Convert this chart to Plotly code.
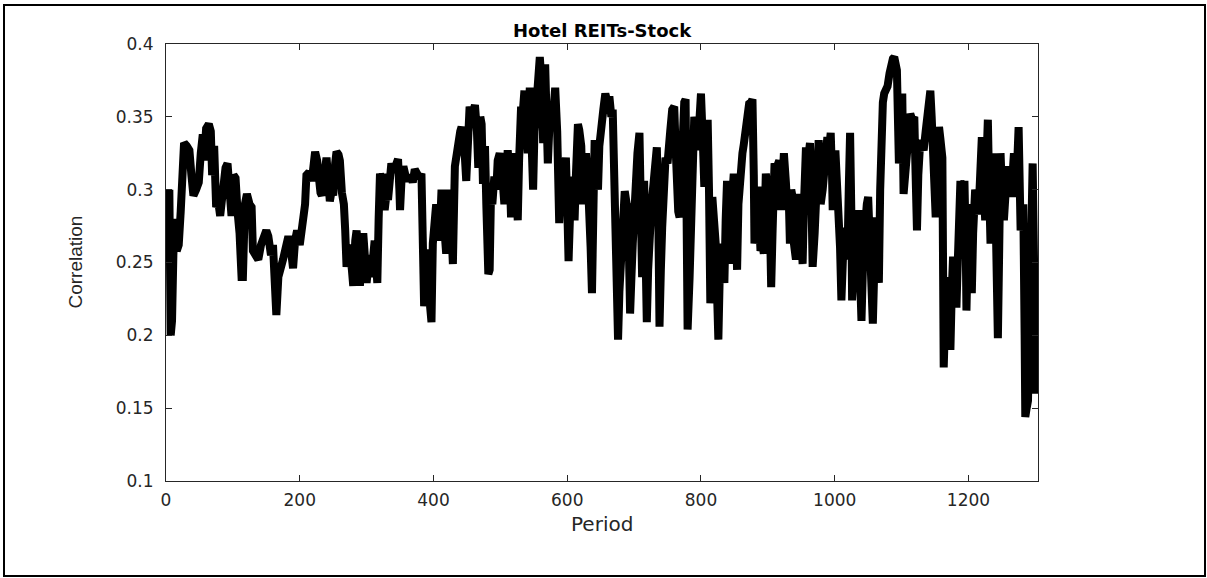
import plotly.graph_objects as go

periods = [
    0, 2, 5, 7, 9, 11, 13, 16, 19, 22, 25, 27, 31, 35, 38, 41, 45, 49, 52, 55, 57, 60, 64, 67, 69, 72, 75, 78, 81, 85,
    89, 92, 95, 98, 101, 104, 107, 110, 113, 115, 118, 121, 125, 128, 130, 134, 138, 142, 146, 150, 153, 157, 160, 163,
    165, 168, 172, 175, 179, 183, 186, 190, 193, 196, 200, 203, 206, 208, 210, 214, 218, 221, 223, 226, 228, 231, 233,
    236, 240, 243, 245, 248, 250, 253, 255, 258, 260, 263, 266, 268, 270, 273, 275, 278, 280, 283, 285, 288, 290, 293,
    295, 298, 300, 303, 305, 307, 309, 312, 314, 316, 318, 320, 323, 325, 327, 330, 332, 335, 337, 340, 344, 347, 349,
    350, 352, 355, 358, 362, 366, 369, 372, 375, 379, 382, 384, 386, 388, 390, 393, 395, 397, 399, 401, 404, 407, 409,
    412, 415, 417, 419, 422, 425, 427, 429, 432, 435, 437, 440, 442, 445, 447, 449, 452, 454, 457, 459, 462, 465, 467,
    470, 472, 474, 477, 479, 482, 484, 486, 488, 491, 494, 496, 499, 502, 504, 506, 509, 511, 514, 516, 518, 521, 524,
    526, 528, 531, 533, 536, 538, 541, 544, 547, 549, 551, 554, 556, 559, 562, 564, 567, 569, 571, 573, 575, 578, 580,
    582, 585, 588, 590, 593, 596, 598, 600, 602, 604, 606, 609, 611, 613, 616, 618, 621, 623, 626, 628, 631, 633, 635,
    637, 639, 641, 644, 646, 648, 651, 654, 657, 660, 663, 666, 668, 671, 674, 676, 678, 681, 684, 686, 689, 691, 693,
    694, 696, 698, 700, 702, 705, 708, 710, 712, 714, 715, 717, 719, 721, 723, 726, 729, 731, 734, 736, 738, 740, 742,
    745, 747, 750, 752, 754, 757, 760, 762, 764, 766, 768, 770, 773, 775, 777, 780, 783, 785, 788, 790, 793, 795, 798,
    800, 803, 805, 808, 810, 812, 814, 816, 817, 820, 822, 824, 826, 828, 830, 833, 835, 837, 839, 842, 844, 846, 849,
    852, 854, 856, 859, 862, 864, 867, 870, 872, 875, 877, 879, 880, 883, 885, 887, 889, 892, 894, 897, 900, 902, 904,
    905, 907, 910, 913, 917, 920, 922, 924, 927, 929, 931, 933, 935, 937, 939, 942, 945, 947, 950, 952, 954, 957, 960,
    963, 965, 967, 970, 972, 974, 976, 978, 979, 982, 984, 987, 989, 992, 994, 996, 997, 999, 1001, 1003, 1005, 1008,
    1010, 1012, 1014, 1017, 1019, 1021, 1023, 1025, 1026, 1029, 1031, 1034, 1036, 1038, 1040, 1043, 1045, 1048, 1050,
    1052, 1054, 1057, 1060, 1062, 1064, 1066, 1068, 1070, 1072, 1074, 1077, 1079, 1082, 1084, 1087, 1089, 1091, 1093,
    1096, 1098, 1101, 1103, 1106, 1108, 1111, 1113, 1116, 1119, 1121, 1123, 1125, 1128, 1131, 1133, 1136, 1138, 1141,
    1143, 1145, 1147, 1149, 1151, 1153, 1156, 1158, 1161, 1162, 1163, 1165, 1168, 1170, 1173, 1175, 1177, 1180, 1182,
    1184, 1186, 1188, 1191, 1194, 1196, 1197, 1199, 1202, 1204, 1205, 1207, 1210, 1212, 1215, 1217, 1220, 1222, 1225,
    1227, 1229, 1231, 1233, 1235, 1237, 1239, 1241, 1244, 1246, 1248, 1250, 1253, 1255, 1258, 1261, 1263, 1266, 1268,
    1271, 1273, 1275, 1278, 1280, 1282, 1284, 1285, 1287, 1289, 1292, 1294, 1296, 1298, 1299, 1301, 1303,
]

correlation = [
    0.265, 0.282, 0.300, 0.200, 0.210, 0.255, 0.280, 0.258, 0.262, 0.285, 0.318, 0.332, 0.330, 0.327, 0.310, 0.296,
    0.300, 0.305, 0.325, 0.338, 0.320, 0.342, 0.345, 0.340, 0.310, 0.330, 0.288, 0.292, 0.282, 0.305, 0.315, 0.318,
    0.300, 0.282, 0.310, 0.308, 0.285, 0.270, 0.240, 0.240, 0.290, 0.297, 0.290, 0.288, 0.258, 0.255, 0.252, 0.262,
    0.270, 0.272, 0.268, 0.255, 0.262, 0.240, 0.214, 0.240, 0.245, 0.252, 0.260, 0.268, 0.262, 0.246, 0.265, 0.272,
    0.262, 0.279, 0.283, 0.290, 0.310, 0.312, 0.306, 0.318, 0.326, 0.320, 0.302, 0.298, 0.296, 0.315, 0.322, 0.305,
    0.292, 0.300, 0.296, 0.318, 0.326, 0.324, 0.320, 0.298, 0.290, 0.272, 0.247, 0.262, 0.258, 0.245, 0.234, 0.265,
    0.272, 0.255, 0.234, 0.262, 0.270, 0.250, 0.236, 0.250, 0.255, 0.240, 0.262, 0.265, 0.250, 0.236, 0.280, 0.311,
    0.305, 0.311, 0.286, 0.298, 0.293, 0.305, 0.318, 0.312, 0.318, 0.321, 0.300, 0.286, 0.305, 0.316, 0.310, 0.306,
    0.310, 0.305, 0.314, 0.310, 0.308, 0.311, 0.229, 0.220, 0.240, 0.259, 0.230, 0.215, 0.209, 0.263, 0.280, 0.290,
    0.275, 0.265, 0.300, 0.285, 0.270, 0.256, 0.300, 0.290, 0.270, 0.249, 0.316, 0.328, 0.336, 0.340, 0.343, 0.335,
    0.322, 0.306, 0.330, 0.357, 0.350, 0.355, 0.358, 0.340, 0.315, 0.350, 0.345, 0.304, 0.330, 0.290, 0.242, 0.245,
    0.297, 0.290, 0.309, 0.300, 0.320, 0.325, 0.315, 0.305, 0.290, 0.310, 0.327, 0.310, 0.281, 0.300, 0.325, 0.300,
    0.279, 0.320, 0.357, 0.350, 0.368, 0.350, 0.325, 0.370, 0.330, 0.300, 0.340, 0.362, 0.375, 0.391, 0.370, 0.332,
    0.386, 0.350, 0.318, 0.340, 0.355, 0.345, 0.360, 0.370, 0.340, 0.277, 0.300, 0.320, 0.310, 0.322, 0.290, 0.251,
    0.280, 0.309, 0.295, 0.279, 0.310, 0.345, 0.341, 0.330, 0.290, 0.315, 0.325, 0.305, 0.290, 0.260, 0.229, 0.290,
    0.334, 0.315, 0.300, 0.330, 0.348, 0.355, 0.366, 0.360, 0.364, 0.350, 0.355, 0.300, 0.240, 0.197, 0.230, 0.263,
    0.285, 0.299, 0.290, 0.286, 0.240, 0.215, 0.240, 0.263, 0.290, 0.309, 0.325, 0.339, 0.300, 0.240, 0.280, 0.306,
    0.260, 0.209, 0.245, 0.272, 0.290, 0.304, 0.315, 0.329, 0.290, 0.206, 0.245, 0.274, 0.300, 0.322, 0.318, 0.325,
    0.340, 0.355, 0.357, 0.330, 0.295, 0.285, 0.281, 0.320, 0.357, 0.360, 0.362, 0.204, 0.240, 0.263, 0.310, 0.350,
    0.340, 0.327, 0.350, 0.366, 0.330, 0.302, 0.330, 0.348, 0.300, 0.222, 0.260, 0.295, 0.280, 0.263, 0.230, 0.197,
    0.240, 0.263, 0.250, 0.236, 0.280, 0.306, 0.280, 0.249, 0.290, 0.311, 0.280, 0.245, 0.290, 0.322, 0.325, 0.331,
    0.343, 0.350, 0.359, 0.360, 0.362, 0.310, 0.263, 0.280, 0.302, 0.280, 0.258, 0.262, 0.256, 0.311, 0.300, 0.304,
    0.260, 0.233, 0.270, 0.318, 0.315, 0.320, 0.286, 0.300, 0.325, 0.305, 0.288, 0.300, 0.263, 0.300, 0.295, 0.263,
    0.252, 0.280, 0.297, 0.270, 0.249, 0.290, 0.329, 0.320, 0.332, 0.300, 0.247, 0.270, 0.286, 0.310, 0.334, 0.310,
    0.290, 0.300, 0.313, 0.325, 0.336, 0.330, 0.339, 0.310, 0.286, 0.310, 0.327, 0.310, 0.300, 0.260, 0.224, 0.250,
    0.274, 0.265, 0.252, 0.300, 0.339, 0.280, 0.224, 0.250, 0.263, 0.275, 0.286, 0.240, 0.210, 0.260, 0.281, 0.290,
    0.295, 0.260, 0.229, 0.208, 0.260, 0.281, 0.260, 0.236, 0.300, 0.352, 0.360, 0.366, 0.368, 0.371, 0.380, 0.389,
    0.390, 0.391, 0.385, 0.382, 0.318, 0.340, 0.366, 0.297, 0.320, 0.330, 0.345, 0.352, 0.348, 0.350, 0.310, 0.272,
    0.310, 0.334, 0.330, 0.327, 0.340, 0.350, 0.360, 0.368, 0.350, 0.332, 0.300, 0.281, 0.310, 0.343, 0.335, 0.322,
    0.250, 0.178, 0.210, 0.240, 0.220, 0.190, 0.230, 0.254, 0.240, 0.219, 0.250, 0.290, 0.306, 0.300, 0.306, 0.260,
    0.217, 0.260, 0.290, 0.260, 0.229, 0.270, 0.300, 0.295, 0.283, 0.310, 0.336, 0.310, 0.279, 0.320, 0.348, 0.300,
    0.263, 0.290, 0.297, 0.325, 0.260, 0.198, 0.260, 0.325, 0.300, 0.279, 0.300, 0.316, 0.305, 0.295, 0.310, 0.325,
    0.295, 0.330, 0.343, 0.272, 0.280, 0.290, 0.200, 0.144, 0.150, 0.155, 0.200, 0.270, 0.318, 0.280, 0.220, 0.160,
    0.188,
]

x_ticks = [0, 200, 400, 600, 800, 1000, 1200]
y_ticks = [0.1, 0.15, 0.2, 0.25, 0.3, 0.35, 0.4]
y_tick_text = ["0.1", "0.15", "0.2", "0.25", "0.3", "0.35", "0.4"]

AX = "#262626"
FONT = "DejaVu Sans, Liberation Sans, Arial, sans-serif"

fig = go.Figure()
fig.add_trace(go.Scatter(
    x=periods, y=correlation, mode="lines",
    line=dict(color="black", width=8),
    showlegend=False, hoverinfo="skip",
))

axis_common = dict(
    showline=True, linecolor=AX, linewidth=1, mirror="ticks",
    ticks="inside", ticklen=6, tickwidth=1, tickcolor=AX,
    showgrid=False, zeroline=False,
    tickfont=dict(family=FONT, size=17, color=AX),
)

fig.update_layout(
    width=1207, height=578, autosize=False,
    margin=dict(l=166, r=169, t=44, b=97),
    paper_bgcolor="white", plot_bgcolor="white",
    xaxis=dict(range=[0, 1304], tickvals=x_ticks, ticktext=[str(t) for t in x_ticks],
               ticklabelstandoff=4, **axis_common),
    yaxis=dict(range=[0.1, 0.4], tickvals=y_ticks, ticktext=y_tick_text, ticklabelstandoff=8, **axis_common),
    font=dict(family=FONT, color=AX),
)

fig.add_annotation(
    text="<b>Hotel REITs-Stock</b>", x=0.5, y=1, xref="paper", yref="paper",
    xanchor="center", yanchor="bottom", yshift=1, showarrow=False,
    font=dict(family=FONT, size=18, color="black"),
)
fig.add_annotation(
    text="Period", x=0.5, y=0, xref="paper", yref="paper",
    xanchor="center", yanchor="middle", yshift=-43, showarrow=False,
    font=dict(family=FONT, size=20, color=AX),
)
fig.add_annotation(
    text="Correlation", x=0, y=0.5, xref="paper", yref="paper",
    xanchor="center", yanchor="middle", xshift=-91, textangle=-90, showarrow=False,
    font=dict(family="Liberation Sans Narrow, Arial Narrow, Liberation Sans, sans-serif", size=19, color=AX),
)

# outer figure frame
fig.add_shape(
    type="rect", xref="paper", yref="paper",
    x0=(4 - 166) / 872, x1=(1205 - 166) / 872,
    y0=(481 - 576) / 437, y1=(481 - 5) / 437,
    line=dict(color="black", width=2), fillcolor="rgba(0,0,0,0)", layer="above",
)

fig.write_html("out.html", config={"displayModeBar": False},
               post_script="document.body.style.margin='0';")
